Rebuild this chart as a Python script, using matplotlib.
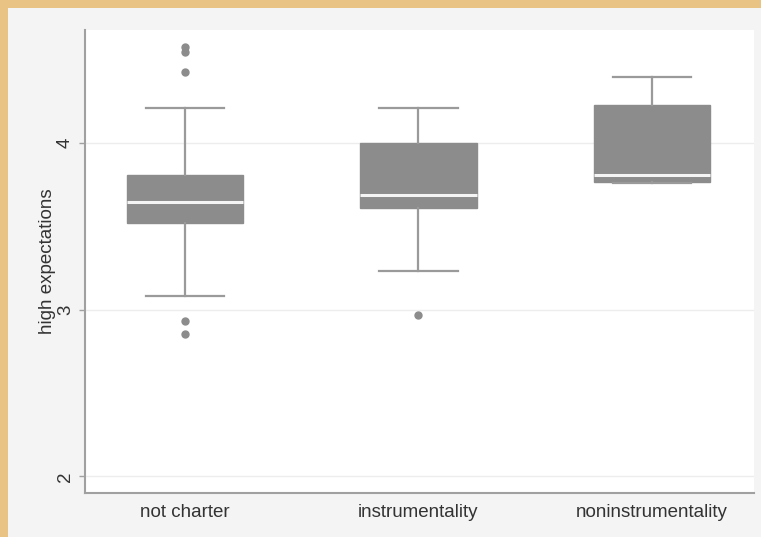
import matplotlib.pyplot as plt
from matplotlib.patches import Rectangle

# group labels and box summary values (high expectations score)
groups = ["not charter", "instrumentality", "noninstrumentality"]
whislo = [3.08, 3.23, 3.76]
q1 = [3.52, 3.61, 3.77]
med = [3.65, 3.69, 3.81]
q3 = [3.81, 4.00, 4.23]
whishi = [4.21, 4.21, 4.40]
fliers = [[4.58, 4.545, 4.43, 2.93, 2.856], [2.97], []]

plt.rcParams['font.family'] = ['Liberation Sans', 'DejaVu Sans']

fig = plt.figure(figsize=(7.61, 5.37), dpi=100)
fig.patch.set_facecolor('#E8C384')
# light gray panel inside the tan border (top and left edges only)
fig.patches.append(Rectangle((8 / 761, 0), 1, 1 - 8 / 537, transform=fig.transFigure,
                             facecolor='#F4F4F4', edgecolor='none', zorder=-10))

ax = fig.add_axes([85 / 761, 1 - 493 / 537, 669 / 761, 463 / 537])
ax.set_facecolor('white')

stats = []
for i, g in enumerate(groups):
    stats.append(dict(label=g, whislo=whislo[i], q1=q1[i], med=med[i], q3=q3[i],
                      whishi=whishi[i], fliers=fliers[i]))

ax.bxp(stats, positions=[1, 2, 3], widths=0.5, patch_artist=True, capwidths=0.335,
       boxprops=dict(facecolor='#8C8C8C', edgecolor='#8C8C8C', linewidth=1),
       medianprops=dict(color='#F4F4F4', linewidth=2.2),
       whiskerprops=dict(color='#9A9A9A', linewidth=1.6),
       capprops=dict(color='#9A9A9A', linewidth=1.6),
       flierprops=dict(marker='o', markerfacecolor='#8C8C8C', markeredgecolor='#8C8C8C',
                       markersize=5))

ax.set_xlim(0.572, 3.437)
ax.set_ylim(1.9, 4.68)
ax.set_yticks([2, 3, 4])
ax.set_yticklabels(['2', '3', '4'], rotation=90, va='center')
ax.yaxis.grid(True, color='#EDEDED', linewidth=1)
ax.set_axisbelow(True)

for side in ['top', 'right']:
    ax.spines[side].set_visible(False)
for side in ['left', 'bottom']:
    ax.spines[side].set_color('#A0A0A0')
    ax.spines[side].set_linewidth(1.5)

ax.tick_params(axis='x', length=0, pad=8, labelsize=13.5, colors='#333333')
ax.tick_params(axis='y', length=4, width=1, color='#A0A0A0', pad=4, labelsize=13.5,
               labelcolor='#333333')
ax.set_ylabel('high expectations', fontsize=13.5, color='#333333', labelpad=1)

fig.savefig('out.png', dpi=100, facecolor=fig.get_facecolor())
